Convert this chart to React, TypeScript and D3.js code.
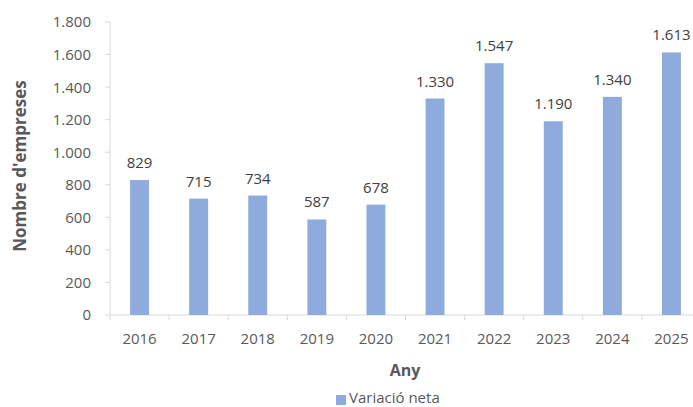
import React from "react";
import * as d3 from "d3";

const years = ["2016","2017","2018","2019","2020","2021","2022","2023","2024","2025"];
const values = [829, 715, 734, 587, 678, 1330, 1547, 1190, 1340, 1613];
const yTicks = [0, 200, 400, 600, 800, 1000, 1200, 1400, 1600, 1800];
const seriesName = "Variació neta";
const xTitle = "Any";
const yTitle = "Nombre d'empreses";

const fmt = (v: number) => v >= 1000 ? d3.format(",")(v).replace(/,/g, ".") : String(v);

export default function App() {
  const W = 693, H = 407;
  const left = 110, right = 701, top = 22, bottom = 315;
  const x = d3.scaleBand<string>().domain(years).range([left, right]).paddingInner(0.68).paddingOuter(0.34);
  const xb = d3.scaleBand<string>().domain(years).range([left, right]);
  const y = d3.scaleLinear().domain([0, 1800]).range([bottom, top]);
  const font = "'Open Sans', sans-serif";
  const grey = "#595959";
  return (
    <div style={{ position: "absolute", left: 0, top: 0 }}>
      <svg width={W} height={H} style={{ display: "block", fontFamily: font }}>
        <rect width={W} height={H} fill="#fff" />
        <line x1={left} x2={left} y1={top} y2={bottom} stroke="#d9d9d9" />
        {yTicks.map(t => (
          <g key={t}>
            <line x1={left - 5} x2={left} y1={y(t)} y2={y(t)} stroke="#d9d9d9" />
            <text x={91} y={y(t)} dy="0.36em" textAnchor="end" fontSize={15} fill={grey}>{fmt(t)}</text>
          </g>
        ))}
        <line x1={left} x2={right} y1={bottom} y2={bottom} stroke="#d9d9d9" />
        {years.map(yr => (
          <line key={"t" + yr} x1={xb(yr)!} x2={xb(yr)!} y1={bottom} y2={bottom + 5} stroke="#d9d9d9" />
        ))}
        {years.map((yr, i) => (
          <g key={yr}>
            <rect x={x(yr)!} y={y(values[i])} width={x.bandwidth()} height={bottom - y(values[i])} fill="#8faadc" />
            <text x={x(yr)! + x.bandwidth() / 2} y={y(values[i]) - 12} textAnchor="middle" fontSize={15} fill="#404040">{fmt(values[i])}</text>
            <text x={x(yr)! + x.bandwidth() / 2} y={bottom + 24} dy="0.36em" textAnchor="middle" fontSize={15} fill={grey}>{yr}</text>
          </g>
        ))}
        <text x={405} y={370} dy="0.36em" textAnchor="middle" fontSize={16} fontWeight="bold" fill={grey}>{xTitle}</text>
        <text transform={`translate(20,166) rotate(-90)`} textAnchor="middle" dy="0.36em" fontSize={17} fontWeight="bold" fill={grey}>{yTitle}</text>
        <rect x={336} y={395} width={10} height={10} fill="#8faadc" />
        <text x={349} y={398} dy="0.36em" fontSize={15} fill={grey}>{seriesName}</text>
      </svg>
    </div>
  );
}
